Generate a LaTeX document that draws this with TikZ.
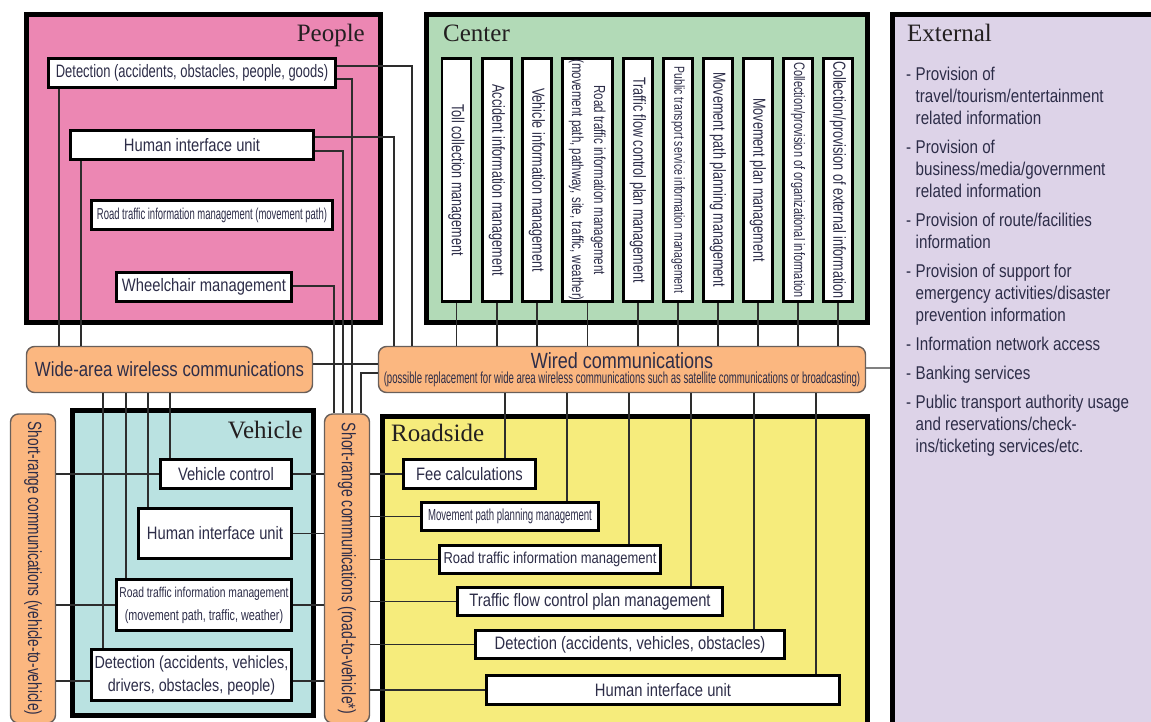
\documentclass[tikz,border=0pt]{standalone}
\usepackage{fontspec}
\usepackage{graphicx}
\usepackage{tikz}
\setmainfont{Liberation Serif}
\newfontfamily\condfont{Liberation Sans}[FakeStretch=0.82]
\newfontfamily\semifont{Liberation Sans}[FakeStretch=0.72]
\newfontfamily\narrowfont{Liberation Sans}[FakeStretch=0.6]
\newcommand{\fsz}[2]{\fontsize{#1}{#2}\selectfont}
\newcommand{\extdash}{\makebox[9.5pt][l]{-}}
\newcommand{\extind}{\hspace*{9.5pt}}

\definecolor{pplfill}{RGB}{236,135,179}
\definecolor{cenfill}{RGB}{178,218,183}
\definecolor{extfill}{RGB}{221,211,232}
\definecolor{vehfill}{RGB}{186,226,225}
\definecolor{rsfill}{RGB}{246,236,124}
\definecolor{commfill}{RGB}{251,183,128}
\definecolor{commline}{RGB}{105,95,90}
\definecolor{linecol}{RGB}{45,45,45}
\definecolor{txtcol}{RGB}{45,45,72}
\definecolor{titlecol}{RGB}{35,31,32}

\begin{document}
\begin{tikzpicture}[x=1pt, y=-1pt,
		panel/.style={draw=black, line width=5pt, inner sep=0},
		func/.style={draw=black, line width=2.6pt, fill=white, text=txtcol, inner sep=0, align=center},
		comm/.style={draw=commline, line width=1.4pt, fill=commfill, rounded corners=8pt, text=txtcol, inner sep=0, align=center},
		link/.style={draw=linecol, line width=1.6pt},
		title/.style={text=titlecol, inner sep=0, font=\fsz{25}{25}}]
		% Frame
		\useasboundingbox (0,0) rectangle (1151,721);
		\clip (0,0) rectangle (1151,721);
		
		% Panels
		\node[panel, fill=pplfill, minimum width=354, minimum height=308] (Ppl) at (203.5,168.5) {};
		\node[panel, fill=cenfill, minimum width=441, minimum height=308] (Cen) at (647,168.5) {};
		\node[panel, fill=extfill, minimum width=280, minimum height=730] (Ext) at (1032.5,379.5) {};
		\node[panel, fill=vehfill, minimum width=241, minimum height=305] (Veh) at (193,563) {};
		\node[panel, fill=rsfill, minimum width=485, minimum height=330] (Rs) at (625,581.5) {};
		
		\node[title, anchor=base east] (Ppl_t) at (365,41) {People};
		\node[title, anchor=base west] (Cen_t) at (443,41) {Center};
		\node[title, anchor=base west] (Ext_t) at (907,41) {External};
		\node[title, anchor=base east] (Veh_t) at (303,438) {Vehicle};
		\node[title, anchor=base west] (Rs_t) at (391,441) {Roadside};
		
		% Communications
		\node[comm, minimum width=286, minimum height=46, font=\condfont\fsz{20.5}{24}] (Wide) at (169.5,369.5) {Wide-area wireless communications};
		\node[comm, minimum width=487, minimum height=46] (Wired) at (622,369.5) {{\condfont\fsz{22}{22}Wired communications}\\[3pt]{\narrowfont\fsz{16}{18}(possible replacement for wide area wireless communications such as satellite communications or broadcasting)}};
		\node[comm, minimum width=45, minimum height=309, font=\semifont\fsz{19}{22}] (V2V) at (33,568.5) {\rotatebox{-90}{Short-range communications (vehicle-to-vehicle)}};
		\node[comm, minimum width=45, minimum height=309, font=\semifont\fsz{19.5}{22}] (R2V) at (347,568.5) {\rotatebox{-90}{Short-range communications (road-to-vehicle*)}};
		
		% People
		\node[func, minimum width=287, minimum height=29, font=\semifont\fsz{18}{22}] (Ppl_det) at (192,73) {Detection (accidents, obstacles, people, goods)};
		\node[func, minimum width=243, minimum height=29, font=\condfont\fsz{18}{22}] (Ppl_hiu) at (192,145) {Human interface unit};
		\node[func, minimum width=241, minimum height=29, font=\narrowfont\fsz{15.8}{20}] (Ppl_rtim) at (212,215) {Road traffic information management (movement path)};
		\node[func, minimum width=175, minimum height=29, font=\condfont\fsz{18}{22}] (Ppl_wch) at (204,287) {Wheelchair management};
		
		% Center
		\foreach \i/\x/\w/\fs/\txt in {
			1/456.5/29/17.5/{Toll collection management},
			2/497/29/17.5/{Accident information management},
			3/537/29/17.5/{Vehicle information management},
			4/587.5/50/16/{\begin{tabular}{@{}c@{}}Road traffic information management\\(movement path, pathway, site, traffic, weather)\end{tabular}},
			5/638/29/17.5/{Traffic flow control plan management},
			6/678/29/14.5/{Public transport service information management},
			7/718/29/17.5/{Movement path planning management},
			8/758/29/17.5/{Movement plan management},
			9/798/29/15.2/{Collection/provision of organizational information},
			10/838/29/17.5/{Collection/provision of external information}}
		{
			\node[func, minimum width=\w, minimum height=243, font=\semifont\fsz{\fs}{22}] (Cen_\i) at (\x,180) {\rotatebox{-90}{\txt}};
			\draw[link] (Cen_\i.south) -- (Cen_\i.south |- Wired.north);
		}
		
		% External
		\node[anchor=north west, inner sep=0, align=left, text=txtcol, font=\condfont\fsz{18.5}{22}] (Ext_list) at (906,67) {%
			\extdash Provision of\\ \extind travel/tourism/entertainment\\ \extind related information\\[7pt]
			\extdash Provision of\\ \extind business/media/government\\ \extind related information\\[7pt]
			\extdash Provision of route/facilities\\ \extind information\\[7pt]
			\extdash Provision of support for\\ \extind emergency activities/disaster\\ \extind prevention information\\[7pt]
			\extdash Information network access\\[7pt]
			\extdash Banking services\\[7pt]
			\extdash Public transport authority usage\\ \extind and reservations/check-\\ \extind ins/ticketing services/etc.};
		
		% Vehicle
		\node[func, minimum width=131, minimum height=29, font=\condfont\fsz{18}{22}] (Veh_ctl) at (226,474) {Vehicle control};
		\node[func, minimum width=153, minimum height=50, font=\condfont\fsz{18}{22}] (Veh_hiu) at (215,533.5) {Human interface unit};
		\node[func, minimum width=175, minimum height=51, font=\semifont\fsz{14.3}{23}] (Veh_rtim) at (204,605) {Road traffic information management\\{\fsz{15}{23}(movement path, traffic, weather)}};
		\node[func, minimum width=200, minimum height=51, font=\condfont\fsz{17.5}{23}] (Veh_det) at (191.5,675) {Detection (accidents, vehicles,\\drivers, obstacles, people)};
		
		% Roadside
		\node[func, minimum width=132, minimum height=29, font=\condfont\fsz{18}{22}] (Rs_fee) at (469.5,474) {Fee calculations};
		\node[func, minimum width=177, minimum height=28, font=\narrowfont\fsz{16}{20}] (Rs_mpp) at (510,516.5) {Movement path planning management};
		\node[func, minimum width=221, minimum height=28, font=\condfont\fsz{15.8}{20}] (Rs_rtim) at (550,559.5) {Road traffic information management};
		\node[func, minimum width=265, minimum height=28, font=\condfont\fsz{18}{22}] (Rs_tfc) at (590,601.5) {Traffic flow control plan management};
		\node[func, minimum width=309, minimum height=28, font=\condfont\fsz{18}{22}] (Rs_det) at (630,644.5) {Detection (accidents, vehicles, obstacles)};
		\node[func, minimum width=353, minimum height=29, font=\condfont\fsz{18}{22}] (Rs_hiu) at (663,690) {Human interface unit};
		
		% Links from People
		\coordinate (k_pd1) at (412,66);
		\coordinate (k_pd2) at (352,79);
		\coordinate (k_ph1) at (394,137);
		\coordinate (k_ph2) at (343,151);
		\coordinate (k_pw) at (334,286);
		\coordinate (k_wr) at (361,373);
		\draw[link] (Ppl_det.east |- k_pd1) -| (k_pd1 |- Wired.north);
		\draw[link] (Ppl_det.east |- k_pd2) -| (k_pd2 |- R2V.north);
		\draw[link] (Ppl_hiu.east |- k_ph1) -| (k_ph1 |- Wired.north);
		\draw[link] (Ppl_hiu.east |- k_ph2) -| (k_ph2 |- R2V.north);
		\draw[link] (Ppl_wch.east |- k_pw) -| (k_pw |- R2V.north);
		\draw[link] (Wired.west |- k_wr) -| (k_wr |- R2V.north);
		
		% Wide-area links
		\coordinate (c_pd) at (59,0);
		\coordinate (c_ph) at (81,0);
		\draw[link] (Ppl_det.south -| c_pd) -- (c_pd |- Wide.north);
		\draw[link] (Ppl_hiu.south -| c_ph) -- (c_ph |- Wide.north);
		\foreach \n/\x in {det/103, rtim/126, hiu/148, ctl/170} {
			\coordinate (c_\n) at (\x,0);
			\draw[link] (Wide.south -| c_\n) -- (c_\n |- Veh_\n.north);
		}
		\coordinate (r_ww) at (0,364);
		\coordinate (r_we) at (0,368);
		\draw[link] (Wide.east |- r_ww) -- (Wired.west |- r_ww);
		\draw[link, draw=gray] (Wired.east |- r_we) -- (Ext.west |- r_we);
		
		% Short-range links, vehicle side
		\coordinate (r_vd) at (0,681);
		\draw[link] (V2V.east |- Veh_ctl.west) -- (Veh_ctl.west);
		\draw[link] (V2V.east |- Veh_rtim.west) -- (Veh_rtim.west);
		\draw[link, line width=2.4pt] (V2V.east |- r_vd) -- (Veh_det.west |- r_vd);
		\foreach \n in {ctl, hiu, rtim}
			\draw[link] (Veh_\n.east) -- (Veh_\n.east -| R2V.west);
		\draw[link] (Veh_det.east |- r_vd) -- (R2V.west |- r_vd);
		
		% Roadside links
		\foreach \n/\x in {fee/505, mpp/567, rtim/629, tfc/691, det/754, hiu/816} {
			\coordinate (c_\n) at (\x,0);
			\draw[link] (Wired.south -| c_\n) -- (c_\n |- Rs_\n.north);
			\draw[link] (R2V.east |- Rs_\n.west) -- (Rs_\n.west);
		}
	\end{tikzpicture}
\end{document}
